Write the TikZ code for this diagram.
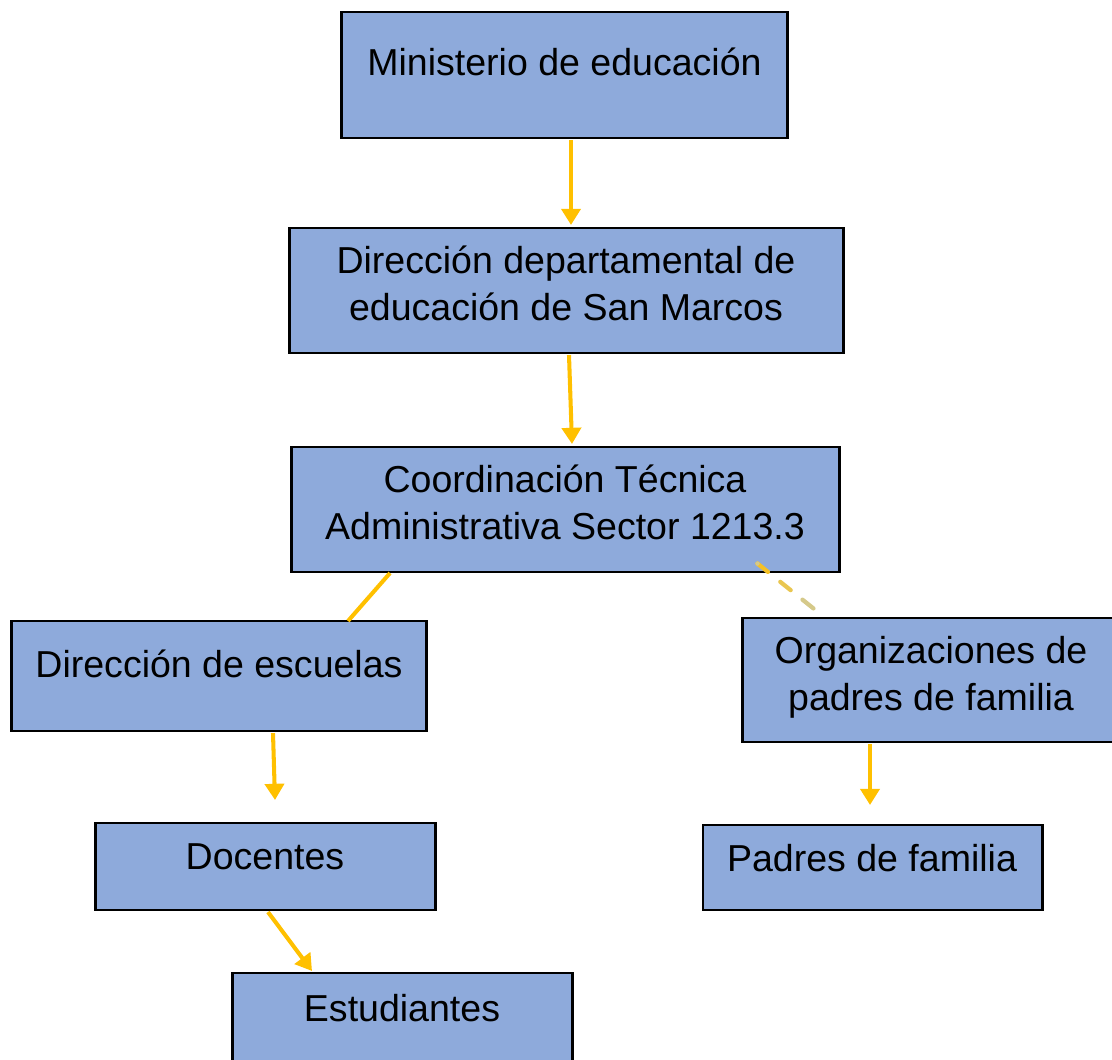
\documentclass[tikz,border=0pt]{standalone}
\usepackage{fontspec}
\setmainfont{Liberation Sans}
\usetikzlibrary{arrows.meta,calc}
\definecolor{boxblue}{HTML}{8EAADB}
\definecolor{arrgold}{HTML}{FFC000}
\definecolor{dashA}{HTML}{F5C125}
\definecolor{dashB}{HTML}{E9C650}
\definecolor{dashC}{HTML}{D5C98A}
\tikzset{
  box/.style={draw=black, line width=0.8pt, fill=boxblue, rectangle, inner sep=0pt, outer sep=0pt},
  txt/.style={font=\fontsize{10.67pt}{13.1pt}\selectfont, inner sep=0pt, align=center, anchor=base},
  arr/.style={draw=arrgold, line width=1.15pt, -{Triangle[width=5.4pt,length=4.6pt]}},
  link/.style={draw=arrgold, line width=1.15pt},
  dlink/.style={line width=1.2pt, line cap=round}
}
\begin{document}
\begin{tikzpicture}[x=0.01cm,y=-0.01cm]
\useasboundingbox (0,0) rectangle (1112,1059);
\clip (0,0) rectangle (1112,1059);
% boxes
\node[box, minimum width=4.45cm, minimum height=1.26cm] (min) at (564.5,75) {};
\node[box, minimum width=5.53cm, minimum height=1.25cm] (dep) at (566.5,290.5) {};
\node[box, minimum width=5.47cm, minimum height=1.25cm] (coord) at (565.5,509.5) {};
\node[box, minimum width=4.14cm, minimum height=1.10cm] (esc) at (219,676) {};
\node[box, minimum width=3.75cm, minimum height=1.24cm] (org) at (930.5,680) {};
\node[box, minimum width=3.39cm, minimum height=0.87cm] (doc) at (265.5,866.5) {};
\node[box, minimum width=3.39cm, minimum height=0.85cm] (pad) at (872.5,867.5) {};
\node[box, minimum width=3.39cm, minimum height=1.07cm] (est) at (402.5,1026.5) {};
% texts (base anchor = baseline of last line)
\node[txt] (minT) at (564.5,75) {Ministerio de educación};
\node[txt] (depT) at (566,320) {Dirección departamental de\\educación de San Marcos};
\node[txt] (coordT) at (565,539) {Coordinación Técnica\\Administrativa Sector 1213.3};
\node[txt] (escT) at (219,677) {Dirección de escuelas};
\node[txt] (orgT) at (931,710) {Organizaciones de\\padres de familia};
\node[txt] (docT) at (265,869) {Docentes};
\node[txt] (padT) at (872,871) {Padres de familia};
\node[txt] (estT) at (402,1021) {Estudiantes};
% connectors
\draw[arr] ($(min.south)+(6.5,2)$) -- ($(dep.north)+(4.5,-3)$);
\draw[arr] ($(dep.south)+(2.5,2)$) -- ($(coord.north)+(6.5,-3)$);
\draw[link] ($(coord.south)+(-175.5,1)$) -- ($(esc.north)+(129,0)$);
\coordinate (dS) at ($(coord.south)+(192,-8.5)$);
\coordinate (dE) at ($(org.north)+(-117,-9.5)$);
\draw[dlink, draw=dashA, dash pattern=on 3.8pt off 100pt] (dS) -- (dE);
\draw[dlink, draw=dashB, dash pattern=on 0pt off 8.3pt on 3.8pt off 100pt] (dS) -- (dE);
\draw[dlink, draw=dashC, dash pattern=on 0pt off 16.4pt on 4pt off 100pt] (dS) -- (dE);
\draw[arr] ($(esc.south)+(54,2)$) -- ($(doc.north)+(9.5,-23)$);
\draw[arr] ($(doc.south)+(2.5,2)$) -- ($(est.north)+(-90.5,-2)$);
\draw[arr] ($(org.south)+(-60.5,2)$) -- ($(pad.north)+(-2.5,-20)$);
\end{tikzpicture}
\end{document}
